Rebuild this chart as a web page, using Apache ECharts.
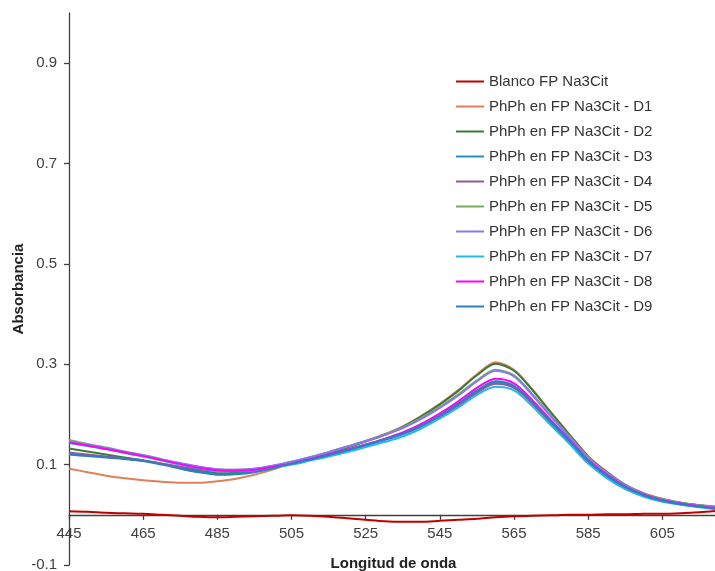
<!DOCTYPE html>
<html>
<head>
<meta charset="utf-8">
<script src="https://cdn.jsdelivr.net/npm/echarts@6/dist/echarts.min.js"></script>
<style>
html,body{margin:0;padding:0;background:#fff;}
#chart{width:715px;height:571px;}
</style>
</head>
<body>
<div id="chart"></div>
<script>
// Wavelengths (nm)
const wavelengths = [445,450,455,460,465,470,475,480,485,490,495,500,
  505,510,515,520,525,530,535,540,545,550,555,560,565,570,575,580,585,590,595,600,605,610,615,620];

const seriesNames = ["Blanco FP Na3Cit","PhPh en FP Na3Cit - D1","PhPh en FP Na3Cit - D2","PhPh en FP Na3Cit - D3",
  "PhPh en FP Na3Cit - D4","PhPh en FP Na3Cit - D5","PhPh en FP Na3Cit - D6","PhPh en FP Na3Cit - D7",
  "PhPh en FP Na3Cit - D8","PhPh en FP Na3Cit - D9"];

const blanco = [0.007,0.006,0.004,0.003,0.002,0.000,-0.002,-0.004,-0.005,-0.004,-0.003,-0.002,
  -0.001,-0.002,-0.004,-0.007,-0.010,-0.013,-0.014,-0.014,-0.012,-0.010,-0.008,-0.005,-0.003,-0.002,-0.001,0.000,0.000,0.001,0.001,0.002,0.002,0.003,0.005,0.008];
const d1 = [0.092,0.085,0.078,0.073,0.069,0.066,0.064,0.064,0.067,0.072,0.080,0.090,
  0.104,0.114,0.124,0.135,0.147,0.160,0.176,0.197,0.221,0.249,0.280,0.304,0.289,0.250,0.204,0.160,0.117,0.086,0.060,0.043,0.032,0.024,0.019,0.016];
const d2 = [0.132,0.126,0.120,0.114,0.109,0.102,0.095,0.088,0.083,0.084,0.088,0.095,
  0.104,0.114,0.123,0.134,0.146,0.159,0.175,0.196,0.220,0.247,0.278,0.301,0.287,0.248,0.203,0.159,0.116,0.085,0.059,0.042,0.031,0.024,0.019,0.015];
const d3 = [0.121,0.118,0.115,0.112,0.108,0.101,0.093,0.086,0.081,0.082,0.086,0.093,
  0.101,0.110,0.118,0.128,0.138,0.149,0.161,0.177,0.197,0.220,0.246,0.264,0.255,0.222,0.183,0.146,0.106,0.077,0.054,0.038,0.028,0.021,0.016,0.012];
const d4 = [0.124,0.120,0.116,0.112,0.108,0.102,0.096,0.091,0.088,0.088,0.091,0.097,
  0.104,0.112,0.120,0.129,0.139,0.150,0.161,0.176,0.195,0.218,0.243,0.261,0.253,0.221,0.182,0.145,0.106,0.078,0.055,0.039,0.029,0.022,0.017,0.013];
const d5 = [0.149,0.141,0.134,0.126,0.119,0.111,0.103,0.096,0.091,0.090,0.092,0.098,
  0.106,0.115,0.125,0.136,0.147,0.160,0.174,0.193,0.215,0.240,0.268,0.289,0.278,0.240,0.197,0.156,0.115,0.084,0.059,0.042,0.031,0.024,0.019,0.016];
const d6 = [0.146,0.139,0.133,0.125,0.118,0.110,0.103,0.096,0.091,0.090,0.092,0.098,
  0.106,0.115,0.125,0.136,0.147,0.159,0.173,0.191,0.213,0.238,0.266,0.287,0.276,0.238,0.195,0.154,0.113,0.083,0.058,0.041,0.030,0.023,0.018,0.014];
const d7 = [0.143,0.137,0.131,0.123,0.116,0.108,0.100,0.093,0.088,0.087,0.089,0.094,
  0.100,0.108,0.116,0.125,0.135,0.145,0.156,0.172,0.192,0.214,0.239,0.255,0.248,0.216,0.178,0.141,0.102,0.073,0.051,0.036,0.026,0.020,0.015,0.011];
const d8 = [0.144,0.138,0.131,0.124,0.117,0.109,0.101,0.094,0.089,0.088,0.090,0.096,
  0.102,0.111,0.120,0.130,0.140,0.151,0.164,0.181,0.202,0.226,0.253,0.271,0.262,0.228,0.188,0.149,0.109,0.080,0.056,0.040,0.029,0.022,0.017,0.013];
const d9 = [0.120,0.117,0.114,0.111,0.107,0.100,0.092,0.085,0.080,0.081,0.085,0.093,
  0.102,0.110,0.119,0.129,0.139,0.150,0.162,0.178,0.198,0.222,0.248,0.266,0.257,0.224,0.185,0.147,0.107,0.078,0.055,0.039,0.028,0.021,0.016,0.012];

const xTickLabels = [445,465,485,505,525,545,565,585,605];
const yTickLabels = [-0.1,0.1,0.3,0.5,0.7,0.9];

const allValues = [blanco,d1,d2,d3,d4,d5,d6,d7,d8,d9];
const colors = ['#C00000','#E0805A','#3A7A3E','#2A8CC4','#93599A','#77AC5E','#8877F5','#22B8F0','#FF00FF','#2F7EC0'];

const FONT = "'Liberation Sans', Arial, sans-serif";
const chart = echarts.init(document.getElementById('chart'), null, {renderer:'canvas'});

const series = allValues.map((vals,i)=>({
  name: seriesNames[i],
  type: 'line',
  data: wavelengths.map((w,j)=>[w, vals[j]]),
  showSymbol: false,
  symbol: 'none',
  smooth: 0.3,
  lineStyle: {width: 2, color: colors[i]},
  itemStyle: {color: colors[i]},
  emphasis: {disabled: true},
  z: 2
}));

chart.setOption({
  animation: false,
  backgroundColor: '#fff',
  color: colors,
  grid: {left: 69, right: -3, top: 13, bottom: 6, containLabel: false, outerBoundsMode: 'none'},
  legend: {
    orient: 'vertical',
    left: 451, top: 69,
    itemWidth: 28, itemHeight: 2,
    itemGap: 10,
    icon: 'rect',
    data: seriesNames,
    textStyle: {fontFamily: FONT, fontSize: 15, color: '#333', lineHeight: 15}
  },
  xAxis: {
    type: 'value',
    min: 445, max: 620,
    name: 'Longitud de onda',
    nameLocation: 'middle',
    nameGap: -9,
    nameMoveOverlap: false,
    nameTextStyle: {fontFamily: FONT, fontSize: 15, fontWeight: 'bold', color: '#222'},
    axisLine: {onZero: true, onZeroAxisIndex: 0, lineStyle: {color: '#404040', width: 1.3}},
    axisTick: {show: true, length: 5, customValues: xTickLabels, lineStyle: {color: '#404040', width: 1.3}},
    axisLabel: {customValues: xTickLabels, fontFamily: FONT, fontSize: 15, color: '#404040', margin: -39},
    splitLine: {show: false}
  },
  yAxis: {
    type: 'value',
    min: -0.1, max: 1.0,
    name: 'Absorbancia',
    nameLocation: 'middle',
    nameGap: 43,
    nameMoveOverlap: false,
    nameTextStyle: {fontFamily: FONT, fontSize: 15, fontWeight: 'bold', color: '#222'},
    axisLine: {show: true, onZero: false, lineStyle: {color: '#404040', width: 1.3}},
    axisTick: {show: true, length: 5, customValues: yTickLabels, lineStyle: {color: '#404040', width: 1.3}},
    axisLabel: {customValues: yTickLabels, fontFamily: FONT, fontSize: 15, color: '#404040', margin: 12,
      formatter: v => (Math.round(v*10)/10).toFixed(1)},
    splitLine: {show: false}
  },
  series: series
});
</script>
</body>
</html>
